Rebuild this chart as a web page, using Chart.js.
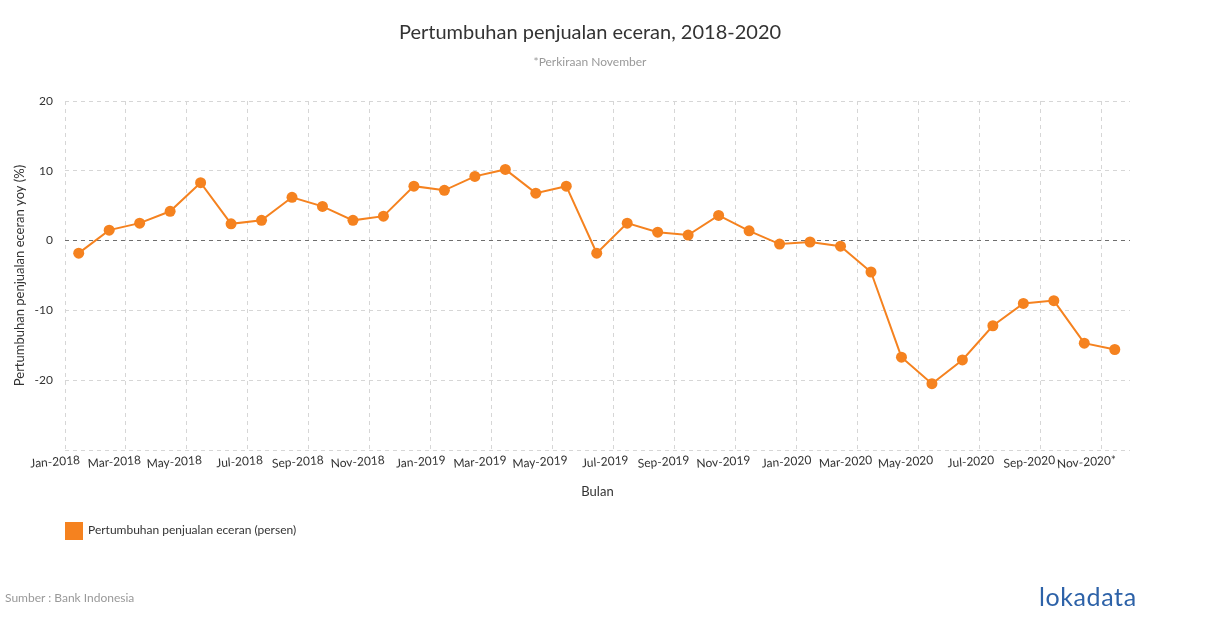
<!DOCTYPE html>
<html><head><meta charset="utf-8">
<script src="https://cdn.jsdelivr.net/npm/chart.js@4.4.0/dist/chart.umd.min.js"></script>
<style>
html,body{margin:0;padding:0;background:#fff;}
#wrap{position:relative;width:1210px;height:628px;font-family:Lato,sans-serif;overflow:hidden;}
#c{position:absolute;left:0;top:0;}
#src{position:absolute;left:5px;top:590px;font-size:12px;line-height:16px;color:#999;}
#logo{position:absolute;left:1039px;top:583px;font-size:25px;line-height:26px;color:#2d62a8;letter-spacing:0.6px;}
</style></head><body>
<div id="wrap"><canvas id="c" width="1210" height="628"></canvas>
<div id="src">Sumber : Bank Indonesia</div>
<div id="logo">lokadata</div></div>
<script>
const months = ['Jan-2018','Feb-2018','Mar-2018','Apr-2018','May-2018','Jun-2018','Jul-2018','Aug-2018','Sep-2018','Oct-2018','Nov-2018','Dec-2018',
  'Jan-2019','Feb-2019','Mar-2019','Apr-2019','May-2019','Jun-2019','Jul-2019','Aug-2019','Sep-2019','Oct-2019','Nov-2019','Dec-2019',
  'Jan-2020','Feb-2020','Mar-2020','Apr-2020','May-2020','Jun-2020','Jul-2020','Aug-2020','Sep-2020','Oct-2020','Nov-2020'];
const growth = [-1.8, 1.5, 2.5, 4.2, 8.3, 2.4, 2.9, 6.2, 4.9, 2.9, 3.5, 7.8,
  7.2, 9.2, 10.2, 6.8, 7.8, -1.8, 2.5, 1.2, 0.8, 3.6, 1.4, -0.5,
  -0.2, -0.8, -4.5, -16.7, -20.5, -17.1, -12.2, -9.0, -8.6, -14.7, -15.6];
const xTickLabels = ['Jan-2018','Mar-2018','May-2018','Jul-2018','Sep-2018','Nov-2018','Jan-2019','Mar-2019','May-2019',
  'Jul-2019','Sep-2019','Nov-2019','Jan-2020','Mar-2020','May-2020','Jul-2020','Sep-2020','Nov-2020*'];
const yTicks = [20, 10, 0, -10, -20, -30];
const seriesName = 'Pertumbuhan penjualan eceran (persen)';

Chart.defaults.font.family = 'Lato, sans-serif';
Chart.defaults.font.size = 12;
Chart.defaults.color = '#333';

const MID = 0.45; // position of monthly observation inside its month
const points = growth.map((v, i) => ({x: i + MID, y: v}));
const orange = '#f5821f';

new Chart(document.getElementById('c'), {
  type: 'line',
  data: { datasets: [{
    label: seriesName, data: points,
    borderColor: orange, backgroundColor: orange, borderWidth: 2, tension: 0,
    pointRadius: 5.5, pointBackgroundColor: orange, pointBorderWidth: 0, pointHoverRadius: 6
  }]},
  options: {
    responsive: false, animation: false, devicePixelRatio: 1,
    layout: { padding: { top: 0, left: 0, right: 30, bottom: 79 } },
    plugins: {
      title: { display: true, text: 'Pertumbuhan penjualan eceran, 2018-2020', color: '#333',
        font: { size: 20, weight: 'normal' }, padding: { top: 21, bottom: 4 } },
      subtitle: { display: true, text: '*Perkiraan November', color: '#999',
        font: { size: 12 }, padding: { top: 6, bottom: 31.6 } },
      legend: { position: 'bottom', align: 'start', fullSize: false,
        labels: { boxWidth: 17, boxHeight: 17, padding: 0, color: '#333', font: { size: 12 } } },
      tooltip: { enabled: false }
    },
    scales: {
      x: {
        type: 'linear', min: 0, max: 34.95,
        afterBuildTicks: s => { s.ticks = xTickLabels.map((_, k) => ({ value: k * 2 })); },
        ticks: { autoSkip: false, minRotation: 4, maxRotation: 4, labelOffset: 15, padding: 3,
          color: '#333', font: { size: 12 }, callback: (v, i) => xTickLabels[i] },
        grid: { color: '#d6d6d6', drawTicks: false, lineWidth: 1 },
        border: { display: false, dash: [4, 4] },
        title: { display: true, text: 'Bulan', color: '#333', font: { size: 13 }, padding: { top: 0, bottom: 22.2 } },
        afterFit: s => { s.height = 72; }
      },
      y: {
        min: -30, max: 20,
        afterBuildTicks: s => { s.ticks = yTicks.map(v => ({ value: v })); },
        ticks: { padding: 12, color: '#333', font: { size: 12 }, callback: v => (v === -30 ? '' : v) },
        grid: { color: c => (c.tick && c.tick.value === 0 ? '#6e6e6e' : '#d6d6d6'), drawTicks: false, lineWidth: 1 },
        border: { display: false, dash: [4, 4] },
        title: { display: true, text: 'Pertumbuhan penjualan eceran yoy (%)', color: '#333', font: { size: 13 }, padding: { top: 12.2, bottom: 0 } },
        afterFit: s => { s.width = 65; }
      },
      yR: {
        position: 'right', display: true,
        grid: { display: false }, ticks: { display: false }, border: { display: false },
        afterFit: s => { s.width = 50; }
      }
    }
  }
});
</script>
</body></html>
